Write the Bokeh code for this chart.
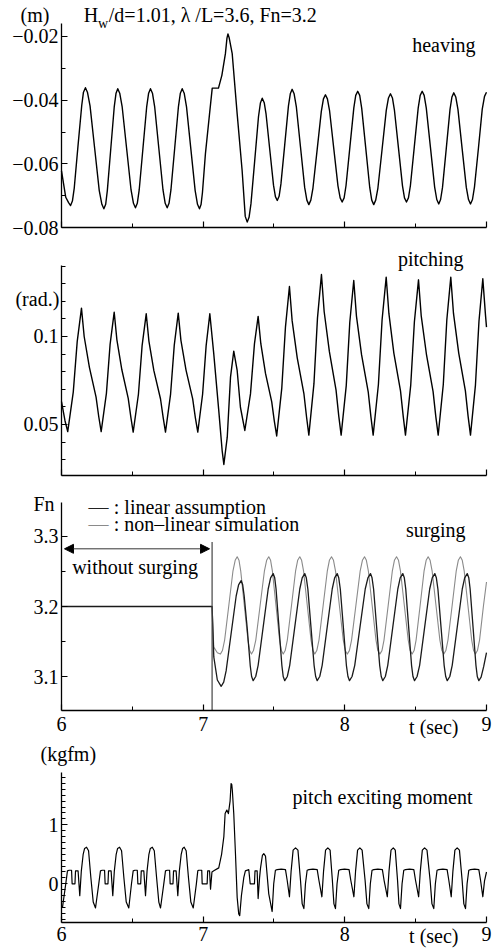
from bokeh.plotting import figure
from bokeh.layouts import column
from bokeh.models import Label, FixedTicker, Arrow, NormalHead, Range1d
from bokeh.embed import file_html
from bokeh.resources import INLINE

# ---------------- data ----------------
heave_t = [6.000, 6.030, 6.050, 6.064, 6.077, 6.090, 6.116, 6.143, 6.155, 6.169, 6.183, 6.2015, 6.234, 6.2665,
           6.285, 6.299, 6.312, 6.3235, 6.348, 6.3725, 6.385, 6.397, 6.411, 6.428, 6.4595, 6.491, 6.508, 6.522,
           6.535, 6.5485, 6.575, 6.6015, 6.615, 6.628, 6.642, 6.6575, 6.687, 6.7165, 6.732, 6.746, 6.759, 6.7725,
           6.799, 6.8255, 6.839, 6.852, 6.866, 6.8825, 6.913, 6.9435, 6.960, 6.974, 6.985, 6.995, 7.016, 7.045,
           7.064, 7.108, 7.132, 7.157, 7.168, 7.175, 7.183, 7.205, 7.240, 7.275, 7.297, 7.311, 7.324, 7.3375,
           7.364, 7.3905, 7.404, 7.417, 7.431, 7.4435, 7.470, 7.4965, 7.510, 7.523, 7.536, 7.549, 7.5755, 7.602,
           7.615, 7.628, 7.642, 7.6575, 7.687, 7.7165, 7.732, 7.746, 7.760, 7.775, 7.8045, 7.834, 7.849, 7.863,
           7.877, 7.8925, 7.922, 7.9515, 7.967, 7.981, 7.995, 8.0085, 8.036, 8.0635, 8.077, 8.091, 8.105, 8.119,
           8.1475, 8.176, 8.190, 8.204, 8.218, 8.2335, 8.263, 8.2925, 8.308, 8.322, 8.336, 8.350, 8.3785, 8.407,
           8.421, 8.435, 8.449, 8.463, 8.4905, 8.518, 8.532, 8.546, 8.560, 8.575, 8.6045, 8.634, 8.649, 8.663,
           8.676, 8.6895, 8.716, 8.7425, 8.756, 8.769, 8.783, 8.7985, 8.828, 8.8575, 8.873, 8.887, 8.901, 8.915,
           8.943, 8.970, 8.986, 9.000]
heave_v = [-0.0622, -0.0705, -0.0722, -0.0731, -0.0717, -0.0676, -0.0546, -0.0416, -0.0375, -0.0361, -0.0375,
           -0.0418, -0.0551, -0.0684, -0.0727, -0.0741, -0.0727, -0.0684, -0.0552, -0.0420, -0.0378, -0.0364,
           -0.0378, -0.0420, -0.0551, -0.0682, -0.0724, -0.0738, -0.0724, -0.0682, -0.0551, -0.0420, -0.0378,
           -0.0364, -0.0378, -0.0420, -0.0551, -0.0682, -0.0724, -0.0738, -0.0724, -0.0682, -0.0551, -0.0420,
           -0.0378, -0.0364, -0.0378, -0.0421, -0.0553, -0.0684, -0.0727, -0.0741, -0.0728, -0.0690, -0.0568,
           -0.0443, -0.0362, -0.0362, -0.0322, -0.0254, -0.0205, -0.0192, -0.0203, -0.0254, -0.0443, -0.0621,
           -0.0765, -0.0783, -0.0768, -0.0725, -0.0589, -0.0452, -0.0409, -0.0394, -0.0408, -0.0442, -0.0555,
           -0.0667, -0.0703, -0.0715, -0.0702, -0.0663, -0.0541, -0.0418, -0.0380, -0.0366, -0.0380, -0.0420,
           -0.0547, -0.0674, -0.0714, -0.0728, -0.0714, -0.0676, -0.0556, -0.0435, -0.0396, -0.0383, -0.0396,
           -0.0434, -0.0552, -0.0669, -0.0707, -0.0720, -0.0707, -0.0668, -0.0546, -0.0424, -0.0385, -0.0372,
           -0.0385, -0.0425, -0.0550, -0.0675, -0.0714, -0.0728, -0.0714, -0.0676, -0.0554, -0.0432, -0.0393,
           -0.0380, -0.0393, -0.0431, -0.0550, -0.0669, -0.0707, -0.0720, -0.0707, -0.0668, -0.0546, -0.0424,
           -0.0385, -0.0372, -0.0385, -0.0425, -0.0549, -0.0673, -0.0712, -0.0726, -0.0712, -0.0674, -0.0552,
           -0.0429, -0.0390, -0.0377, -0.0390, -0.0429, -0.0552, -0.0674, -0.0712, -0.0726, -0.0712, -0.0673,
           -0.0551, -0.0428, -0.0388, -0.0375]

pitch_t = [6.000, 6.025, 6.044, 6.083, 6.111, 6.141, 6.160, 6.197, 6.244, 6.263, 6.280, 6.317, 6.343, 6.372,
           6.391, 6.426, 6.471, 6.490, 6.506, 6.543, 6.569, 6.598, 6.617, 6.652, 6.699, 6.718, 6.734, 6.770,
           6.796, 6.824, 6.843, 6.879, 6.926, 6.945, 6.962, 6.996, 7.021, 7.047, 7.075, 7.110, 7.134, 7.146,
           7.170, 7.193, 7.216, 7.240, 7.263, 7.294, 7.334, 7.362, 7.388, 7.407, 7.440, 7.484, 7.502, 7.519,
           7.555, 7.581, 7.609, 7.628, 7.664, 7.711, 7.730, 7.746, 7.782, 7.807, 7.835, 7.854, 7.891, 7.938,
           7.957, 7.974, 8.010, 8.035, 8.063, 8.082, 8.118, 8.165, 8.184, 8.200, 8.237, 8.263, 8.292, 8.311,
           8.346, 8.393, 8.412, 8.428, 8.465, 8.491, 8.520, 8.539, 8.576, 8.623, 8.642, 8.659, 8.695, 8.720,
           8.748, 8.767, 8.804, 8.851, 8.870, 8.887, 8.922, 8.947, 8.974, 8.993, 9.000]
pitch_v = [0.063, 0.052, 0.046, 0.0684, 0.0972, 0.1161, 0.1000, 0.0825, 0.0656, 0.0544, 0.0460, 0.0677, 0.0955,
           0.1138, 0.0981, 0.0811, 0.0648, 0.0539, 0.0457, 0.0672, 0.0948, 0.1129, 0.0974, 0.0806, 0.0645,
           0.0538, 0.0457, 0.0673, 0.0951, 0.1133, 0.0978, 0.0809, 0.0646, 0.0538, 0.0457, 0.0672, 0.0948,
           0.1129, 0.0900, 0.0580, 0.0352, 0.0273, 0.0428, 0.0769, 0.0917, 0.0807, 0.0598, 0.0466, 0.0674,
           0.0958, 0.1114, 0.0959, 0.0790, 0.0629, 0.0521, 0.0435, 0.0707, 0.1055, 0.1284, 0.1090, 0.0879,
           0.0676, 0.0541, 0.0440, 0.0732, 0.1106, 0.1352, 0.1142, 0.0914, 0.0695, 0.0549, 0.0440, 0.0721,
           0.1081, 0.1318, 0.1116, 0.0897, 0.0686, 0.0545, 0.0440, 0.0727, 0.1095, 0.1337, 0.1131, 0.0906,
           0.0691, 0.0548, 0.0440, 0.0722, 0.1084, 0.1322, 0.1119, 0.0899, 0.0687, 0.0546, 0.0440, 0.0727,
           0.1095, 0.1337, 0.1131, 0.0906, 0.0691, 0.0548, 0.0440, 0.0724, 0.1088, 0.1328, 0.1120, 0.1053]

# surging: non-linear simulation (light) and linear assumption (dark)
surge_nl_t = [6.000, 7.063, 7.075, 7.100, 7.122, 7.136, 7.1515, 7.181, 7.2105, 7.226, 7.240, 7.253, 7.265,
              7.2905, 7.316, 7.328, 7.341, 7.355, 7.3715, 7.402, 7.4325, 7.448, 7.463, 7.476, 7.4885, 7.514,
              7.5395, 7.552, 7.565, 7.579, 7.594, 7.6235, 7.6525, 7.667, 7.682, 7.695, 7.7085, 7.735, 7.7615,
              7.775, 7.788, 7.802, 7.8175, 7.847, 7.8765, 7.891, 7.906, 7.920, 7.934, 7.9615, 7.989, 8.003,
              8.017, 8.032, 8.0475, 8.078, 8.1085, 8.124, 8.139, 8.152, 8.166, 8.193, 8.220, 8.233, 8.247,
              8.262, 8.2765, 8.306, 8.3355, 8.350, 8.365, 8.379, 8.3925, 8.420, 8.4475, 8.461, 8.475, 8.489,
              8.503, 8.5315, 8.5595, 8.574, 8.588, 8.602, 8.616, 8.6435, 8.671, 8.685, 8.699, 8.713, 8.728,
              8.7575, 8.7865, 8.801, 8.816, 8.829, 8.8425, 8.869, 8.8955, 8.909, 8.922, 8.936, 8.951, 8.978,
              9.000]
surge_nl_v = [3.200, 3.200, 3.142, 3.134, 3.132, 3.137, 3.152, 3.2015, 3.251, 3.266, 3.271, 3.266, 3.251,
              3.2015, 3.152, 3.137, 3.132, 3.137, 3.152, 3.2015, 3.251, 3.266, 3.271, 3.266, 3.251, 3.2015,
              3.152, 3.137, 3.132, 3.137, 3.152, 3.2015, 3.251, 3.266, 3.271, 3.266, 3.251, 3.2015, 3.152,
              3.137, 3.132, 3.137, 3.152, 3.2015, 3.251, 3.266, 3.271, 3.266, 3.251, 3.2015, 3.152, 3.137,
              3.132, 3.137, 3.152, 3.2015, 3.251, 3.266, 3.271, 3.266, 3.251, 3.2015, 3.152, 3.137, 3.132,
              3.137, 3.152, 3.2015, 3.251, 3.266, 3.271, 3.266, 3.251, 3.2015, 3.152, 3.137, 3.132, 3.137,
              3.152, 3.2015, 3.251, 3.266, 3.271, 3.266, 3.251, 3.2015, 3.152, 3.137, 3.132, 3.137, 3.152,
              3.2015, 3.251, 3.266, 3.271, 3.266, 3.251, 3.2015, 3.152, 3.137, 3.132, 3.137, 3.152, 3.200,
              3.235]
surge_lin_t = [6.000, 7.063, 7.075, 7.100, 7.127, 7.145, 7.162, 7.1975, 7.233, 7.250, 7.268, 7.279, 7.289,
               7.3105, 7.332, 7.342, 7.353, 7.371, 7.388, 7.4235, 7.459, 7.476, 7.494, 7.505, 7.5145, 7.535,
               7.5555, 7.565, 7.576, 7.594, 7.611, 7.6465, 7.682, 7.699, 7.717, 7.728, 7.739, 7.761, 7.783,
               7.794, 7.805, 7.823, 7.840, 7.8755, 7.911, 7.928, 7.946, 7.957, 7.968, 7.9895, 8.011, 8.022,
               8.033, 8.051, 8.070, 8.107, 8.144, 8.163, 8.181, 8.192, 8.203, 8.2245, 8.246, 8.257, 8.268,
               8.286, 8.303, 8.3385, 8.374, 8.391, 8.409, 8.420, 8.430, 8.4505, 8.471, 8.481, 8.492, 8.510,
               8.528, 8.5635, 8.599, 8.617, 8.635, 8.646, 8.657, 8.679, 8.701, 8.712, 8.723, 8.741, 8.758,
               8.7935, 8.829, 8.846, 8.864, 8.875, 8.8845, 8.905, 8.9255, 8.935, 8.946, 8.962, 8.980, 9.000]
surge_lin_v = [3.200, 3.200, 3.128, 3.095, 3.086, 3.092, 3.108, 3.1615, 3.215, 3.231, 3.237, 3.231, 3.216,
               3.170, 3.116, 3.100, 3.094, 3.100, 3.116, 3.1705, 3.225, 3.241, 3.247, 3.241, 3.225, 3.1705,
               3.116, 3.100, 3.094, 3.100, 3.116, 3.1705, 3.225, 3.241, 3.247, 3.241, 3.225, 3.1705, 3.116,
               3.100, 3.094, 3.100, 3.116, 3.1705, 3.225, 3.241, 3.247, 3.241, 3.225, 3.1705, 3.116, 3.100,
               3.094, 3.100, 3.116, 3.1705, 3.225, 3.241, 3.247, 3.241, 3.225, 3.1705, 3.116, 3.100, 3.094,
               3.100, 3.116, 3.1705, 3.225, 3.241, 3.247, 3.241, 3.225, 3.1705, 3.116, 3.100, 3.094, 3.100,
               3.116, 3.1705, 3.225, 3.241, 3.247, 3.241, 3.225, 3.1705, 3.116, 3.100, 3.094, 3.100, 3.116,
               3.1705, 3.225, 3.241, 3.247, 3.241, 3.225, 3.1705, 3.116, 3.100, 3.094, 3.099, 3.114, 3.134]
surge_start = 7.063

moment_t = [6.000, 6.007, 6.030, 6.042, 6.054, 6.071, 6.075, 6.095, 6.099, 6.117, 6.129, 6.140, 6.153, 6.163,
            6.177, 6.191, 6.207, 6.224,
            6.240, 6.263, 6.275, 6.287, 6.304, 6.308, 6.328, 6.332, 6.350, 6.362, 6.373, 6.386, 6.396, 6.410,
            6.424, 6.440, 6.457,
            6.475, 6.494, 6.506, 6.518, 6.535, 6.539, 6.559, 6.563, 6.581, 6.593, 6.604, 6.617, 6.627, 6.641,
            6.655, 6.671, 6.687,
            6.699, 6.722, 6.734, 6.746, 6.763, 6.767, 6.787, 6.791, 6.809, 6.821, 6.832, 6.845, 6.855, 6.866,
            6.880, 6.896, 6.913,
            6.930, 6.952, 6.962, 6.969, 6.990, 6.993, 7.028, 7.032, 7.045, 7.052, 7.062, 7.075, 7.110, 7.130,
            7.146, 7.155, 7.167, 7.178, 7.190, 7.197, 7.202, 7.206, 7.216, 7.228, 7.240, 7.251, 7.258, 7.270,
            7.287, 7.298, 7.322, 7.332, 7.362, 7.366, 7.381, 7.388, 7.398, 7.405, 7.418, 7.428, 7.440, 7.463,
            7.487, 7.498, 7.510, 7.522, 7.551, 7.581, 7.593, 7.609, 7.621, 7.635, 7.652, 7.669, 7.687, 7.699,
            7.711, 7.722, 7.734, 7.746, 7.775, 7.805, 7.817, 7.838, 7.850, 7.864, 7.880, 7.896, 7.912, 7.923,
            7.934, 7.945, 7.957, 7.969, 7.998, 8.030, 8.042, 8.064, 8.076, 8.090, 8.106, 8.122, 8.143, 8.156,
            8.169, 8.180, 8.192, 8.204, 8.233, 8.265, 8.277, 8.300, 8.312, 8.326, 8.342, 8.356, 8.372, 8.382,
            8.393, 8.404, 8.416, 8.428, 8.457, 8.487, 8.499, 8.521, 8.533, 8.547, 8.563, 8.580, 8.602, 8.615,
            8.628, 8.639, 8.651, 8.663, 8.692, 8.722, 8.734, 8.751, 8.763, 8.777, 8.793, 8.809, 8.828, 8.840,
            8.852, 8.863, 8.875, 8.887, 8.916, 8.946, 8.958, 8.974, 8.986, 9.000]
moment_v = [-0.38, -0.40, 0.00, 0.22, 0.23, 0.23, 0.00, 0.00, 0.22, 0.22, -0.20, 0.22, 0.50, 0.60,
            0.62, 0.56, 0.11, -0.31,
            -0.41, 0.00, 0.22, 0.23, 0.23, 0.00, 0.00, 0.22, 0.22, -0.20, 0.22, 0.50, 0.60, 0.62,
            0.56, 0.11, -0.31,
            -0.41, 0.00, 0.22, 0.23, 0.23, 0.00, 0.00, 0.22, 0.22, -0.20, 0.22, 0.50, 0.60, 0.62,
            0.56, 0.11, -0.31,
            -0.41, 0.00, 0.22, 0.23, 0.23, 0.00, 0.00, 0.22, 0.22, -0.20, 0.22, 0.50, 0.60, 0.62,
            0.56, 0.11, -0.31,
            -0.41, 0.00, 0.22, 0.23, 0.23, 0.00, 0.00, 0.22, 0.22, -0.09, 0.20, 0.22, 0.27, 0.50,
            0.80, 1.19, 1.25, 1.19, 1.40, 1.70, 1.68, 1.58, 1.19, 0.51, -0.23, -0.51, -0.54, -0.20,
            0.11, 0.22, 0.24, 0.00, 0.00, 0.22, 0.22, -0.25, 0.10, 0.27, 0.48, 0.51, 0.47, -0.17,
            -0.47, 0.00, 0.23, 0.24, 0.25, 0.24, 0.06, -0.22, 0.22, 0.57, 0.61, 0.57, 0.06, -0.34,
            -0.42, 0.00, 0.23, 0.24, 0.25, 0.24, 0.06, -0.22, 0.22, 0.57, 0.61, 0.57, 0.06, -0.34,
            -0.42, 0.00, 0.23, 0.24, 0.25, 0.24, 0.06, -0.22, 0.22, 0.57, 0.61, 0.57, 0.06, -0.34,
            -0.42, 0.00, 0.23, 0.24, 0.25, 0.24, 0.06, -0.22, 0.22, 0.57, 0.61, 0.57, 0.06, -0.34,
            -0.42, 0.00, 0.23, 0.24, 0.25, 0.24, 0.06, -0.22, 0.22, 0.57, 0.61, 0.57, 0.06, -0.34,
            -0.42, 0.00, 0.23, 0.24, 0.25, 0.24, 0.06, -0.22, 0.22, 0.57, 0.61, 0.57, 0.06, -0.34,
            -0.42, 0.00, 0.23, 0.24, 0.25, 0.24, 0.06, -0.22, 0.05, 0.20]

x_ticks = [6, 7, 8, 9]
x_minor = [6.5, 7.5, 8.5]
heave_ticks = [-0.08, -0.06, -0.04, -0.02]
heave_minor = [-0.07, -0.05, -0.03]
pitch_ticks = [0.05, 0.1]
pitch_minor = [0.03, 0.04, 0.06, 0.07, 0.08, 0.09, 0.11, 0.12, 0.13, 0.14]
surge_ticks = [3.1, 3.2, 3.3]
surge_minor = [3.15, 3.25]
moment_ticks = [0, 1]
moment_minor = [-0.6, -0.5, -0.4, -0.3, -0.2, -0.1, 0.1, 0.2, 0.3, 0.4, 0.5, 0.6, 0.7, 0.8, 0.9,
                1.1, 1.2, 1.3, 1.4, 1.5, 1.6, 1.7, 1.8]

# ---------------- styling helpers ----------------
FONT = "Liberation Serif"
FS = "20px"
X0, X1 = 5.5694, 9.0706     # x range so that t=6..9 spans pixels 61..486


def label_text(v):
    return ("%g" % v).replace("-", "\u2212")


def make_fig(height, ylo, yhi, bnd, yt, ym, show_x, x_standoff=5):
    p = figure(width=496, height=height, x_range=Range1d(X0, X1), y_range=Range1d(ylo, yhi),
               output_backend="svg", toolbar_location=None,
               min_border=0, min_border_left=0, min_border_right=0, min_border_top=0, min_border_bottom=0)
    p.xgrid.visible = False
    p.ygrid.visible = False
    p.outline_line_color = None
    p.background_fill_color = "white"
    p.border_fill_color = "white"
    xa = p.xaxis[0]
    ya = p.yaxis[0]
    xa.ticker = FixedTicker(ticks=x_ticks, minor_ticks=x_minor)
    ya.ticker = FixedTicker(ticks=yt, minor_ticks=ym)
    xa.fixed_location = bnd[0]
    xa.bounds = (6, 9)
    ya.fixed_location = 6
    ya.bounds = bnd
    for ax in (xa, ya):
        ax.axis_line_color = "black"
        ax.axis_line_width = 1.3
        ax.major_tick_in = 6
        ax.major_tick_out = 0
        ax.minor_tick_in = 4
        ax.minor_tick_out = 0
        ax.major_tick_line_color = "black"
        ax.minor_tick_line_color = "black"
        ax.major_tick_line_width = 1.2
        ax.major_label_text_font = FONT
        ax.major_label_text_font_size = FS
        ax.major_label_text_color = "black"
    ya.major_label_standoff = 3
    ya.major_label_overrides = {v: label_text(v) for v in yt}
    xa.major_label_standoff = x_standoff
    if show_x:
        xa.major_label_overrides = {v: label_text(v) for v in x_ticks}
    else:
        xa.major_label_overrides = {v: "" for v in x_ticks}
    return p


def add_text(p, x, y, text, align="left", size=FS, color="black"):
    p.add_layout(Label(x=x, y=y, text=text, text_font=FONT, text_font_size=size,
                       text_color=color, text_align=align, text_baseline="middle"))


def add_curve(p, t, v, color, width):
    p.line(t, v, line_color=color, line_width=width, line_join="round")


# ---------------- panel 1: heaving ----------------
p1 = make_fig(240, -0.084076, -0.008693, (-0.08, -0.0159), heave_ticks, heave_minor, False)
add_curve(p1, heave_t, heave_v, "black", 1.4)
add_text(p1, 5.711, -0.0134, "(m)")
add_text(p1, 6.157, -0.0134, "H")
add_text(p1, 6.258, -0.0160, "w", size="14px")
add_text(p1, 6.334, -0.0134, "/d=1.01, \u03bb /L=3.6, Fn=3.2")
add_text(p1, 8.922, -0.0228, "heaving", align="right")

# ---------------- panel 2: pitching ----------------
p2 = make_fig(245, 0.015341, 0.154545, (0.02105, 0.14033), pitch_ticks, pitch_minor, False)
add_curve(p2, pitch_t, pitch_v, "black", 1.4)
add_text(p2, 5.675, 0.1214, "(rad.)")
add_text(p2, 8.838, 0.1441, "pitching", align="right")

# ---------------- panel 3: surging ----------------
p3 = make_fig(253, 3.011429, 3.372857, (3.0514, 3.3486), surge_ticks, surge_minor, True, x_standoff=6)
add_curve(p3, surge_nl_t, surge_nl_v, "#8a8a8a", 1.1)
add_curve(p3, surge_lin_t, surge_lin_v, "#1a1a1a", 1.3)
p3.segment(x0=[surge_start], y0=[3.0514], x1=[surge_start], y1=[3.292], line_color="#444444", line_width=1.2)
p3.add_layout(Arrow(start=NormalHead(size=9, fill_color="black", line_color="black"),
                    end=NormalHead(size=9, fill_color="black", line_color="black"),
                    x_start=6.021, y_start=3.2824, x_end=7.045, y_end=3.2824,
                    line_color="#333333", line_width=1))
add_text(p3, 6.075, 3.2562, "without surging")
add_text(p3, 5.802, 3.3468, "Fn")
add_text(p3, 6.191, 3.3419, "\u2014", color="#222222")
add_text(p3, 6.369, 3.3419, ": linear assumption")
add_text(p3, 6.191, 3.3182, "\u2014", color="#8a8a8a")
add_text(p3, 6.369, 3.3182, ": non\u2013linear simulation")
add_text(p3, 8.852, 3.3086, "surging", align="right")
add_text(p3, 8.628, 3.0276, "t (sec)", align="center")

# ---------------- panel 4: pitch exciting moment ----------------
p4 = make_fig(210, -1.09661, 2.46271, (-0.656, 1.886), moment_ticks, moment_minor, True, x_standoff=4)
add_curve(p4, moment_t, moment_v, "black", 1.2)
add_text(p4, 5.852, 2.203, "(kgfm)")
add_text(p4, 8.901, 1.468, "pitch exciting moment", align="right")
add_text(p4, 8.628, -0.893, "t (sec)", align="center")

layout = column(p1, p2, p3, p4, spacing=0)
open("out.html", "w").write(file_html(layout, INLINE))
